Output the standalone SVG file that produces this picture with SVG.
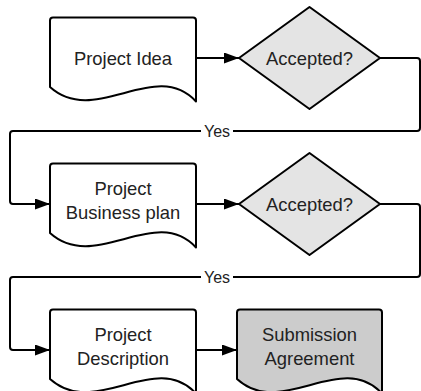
<svg xmlns="http://www.w3.org/2000/svg" width="421" height="391" viewBox="0 0 421 391">
<style>
.shape{stroke:#000;stroke-width:2;stroke-linejoin:round;fill:#fff}
.dec{fill:#e4e4e4}
.term{fill:#cccccc}
.t{font-family:"Liberation Sans",Arial,sans-serif;font-size:18.4px;fill:#222;text-anchor:middle}
.lbl{font-family:"Liberation Sans",Arial,sans-serif;font-size:16px;fill:#222;text-anchor:middle}
.conn{fill:none;stroke:#000;stroke-width:2;stroke-linejoin:round}
</style>
<defs>
<marker id="arr" markerUnits="userSpaceOnUse" markerWidth="16" markerHeight="12" refX="15" refY="5.5" orient="auto" viewBox="0 0 16 12">
<path d="M0,0 L15,5.5 L0,11 Z" fill="#000"/>
</marker>
</defs>
<g id="connectors">
<path class="conn" d="M196,58 H239" marker-end="url(#arr)"/>
<path class="conn" d="M380,58 H417 Q420,58 420,61 V128 Q420,131 417,131 H13 Q10,131 10,134 V201 Q10,204 13,204 H50" marker-end="url(#arr)"/>
<path class="conn" d="M196,204 H239" marker-end="url(#arr)"/>
<path class="conn" d="M380,204 H417 Q420,204 420,207 V274 Q420,277 417,277 H13 Q10,277 10,280 V347 Q10,350 13,350 H50" marker-end="url(#arr)"/>
<path class="conn" d="M196,350 H237" marker-end="url(#arr)"/>
<g id="label-yes-1"><rect x="201" y="122" width="32" height="18" fill="#fff"/><text class="lbl" x="217" y="136.5">Yes</text></g>
<g id="label-yes-2"><rect x="201" y="268" width="32" height="18" fill="#fff"/><text class="lbl" x="217" y="282.5">Yes</text></g>
</g>
<g id="project-idea">
<path class="shape" d="M50,87 V20.5 Q50,17.5 53,17.5 H193 Q196,17.5 196,20.5 V101.5 C155,57.5 95,127.5 50,87 Z"/>
<text class="t" x="123" y="64.5">Project Idea</text>
</g>
<g id="accepted-1">
<path class="shape dec" d="M239,58 L309.5,7 L380,58 L309.5,109 Z"/>
<text class="t" x="309.5" y="64.5">Accepted?</text>
</g>
<g id="business-plan">
<path class="shape" d="M50,233 V166.5 Q50,163.5 53,163.5 H193 Q196,163.5 196,166.5 V247.5 C155,203.5 95,273.5 50,233 Z"/>
<text class="t" x="123" y="195">Project</text>
<text class="t" x="123" y="218.5">Business plan</text>
</g>
<g id="accepted-2">
<path class="shape dec" d="M239,204 L309.5,153 L380,204 L309.5,255 Z"/>
<text class="t" x="309.5" y="210.5">Accepted?</text>
</g>
<g id="project-description">
<path class="shape" d="M50,379 V312.5 Q50,309.5 53,309.5 H193 Q196,309.5 196,312.5 V393.5 C155,349.5 95,419.5 50,379 Z"/>
<text class="t" x="123" y="341">Project</text>
<text class="t" x="123" y="364.5">Description</text>
</g>
<g id="submission-agreement">
<path class="shape term" d="M237,379 V312.5 Q237,309.5 240,309.5 H379 Q382,309.5 382,312.5 V393.5 C341,349.5 281,419.5 237,379 Z"/>
<text class="t" x="309.5" y="341">Submission</text>
<text class="t" x="309.5" y="364.5">Agreement</text>
</g>
</svg>
